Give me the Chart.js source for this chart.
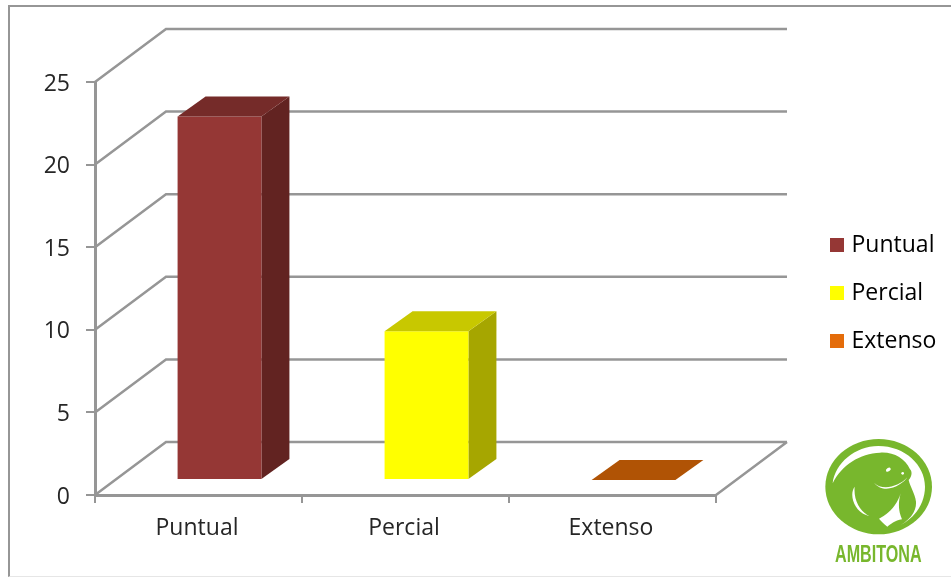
<!DOCTYPE html>
<html>
<head>
<meta charset="utf-8">
<style>
  html, body { margin: 0; padding: 0; background: #fff; }
  #wrap { position: relative; width: 951px; height: 578px; overflow: hidden; }
  #frame { position: absolute; left: 8px; top: 5px; right: -4px; bottom: 1px; border: 2px solid #969696; border-bottom: 1px solid #e6e6e6; }
  #logo { position: absolute; left: 810px; top: 430px; }
</style>
<script src="https://cdn.jsdelivr.net/npm/chart.js@4"></script>
</head>
<body>
<div id="wrap">
  <div id="frame"></div>
  <canvas id="chart3d" width="951" height="578"></canvas>
  <svg id="logo" width="141" height="148" viewBox="0 0 423 444">
    <ellipse cx="206" cy="170" rx="160" ry="143" fill="#78b72d"/>
    <path fill="#fff" d="M68,160 C75,100 135,48 205,48 C285,48 345,105 345,170 C345,215 320,260 272,285 C300,268 320,245 318,215 C315,190 300,170 296,150 C305,140 308,125 300,118 C285,85 250,65 210,68 C150,70 95,105 68,160 Z"/>
    <ellipse cx="235" cy="119" rx="8" ry="5" fill="#fff" transform="rotate(-35 235 119)"/>
    <circle cx="278" cy="130" r="4" fill="#fff"/>
    <path fill="#fff" d="M192,158 C215,182 265,172 292,142 C280,162 225,198 192,158 Z"/>
    <path fill="#fff" d="M134,170 C115,195 135,250 178,258 C150,245 130,210 134,170 Z"/>
    <path fill="#fff" d="M207,266 C240,250 262,222 272,190 C262,225 268,250 276,268 C255,270 240,285 232,290 C222,282 214,274 207,266 Z"/>
    <text x="75" y="395" font-family="'Liberation Sans Narrow','Liberation Sans',sans-serif" font-weight="700" font-size="70" fill="#78b72d" textLength="260" lengthAdjust="spacingAndGlyphs">AMBITONA</text>
  </svg>
</div>
<script>
// values
const categories = ["Puntual", "Percial", "Extenso"];
const counts = [22, 9, 0];
const frontColors = ["#953735", "#ffff00", "#b05305"];
const topColors = ["#752b29", "#c8c800", "#b05305"];
const sideColors = ["#622321", "#a6a600", "#8a4104"];
const legendColors = ["#953735", "#ffff00", "#e46c0a"];
const yMax = 25;
const yStep = 5;

const axisColor = "#969696";
const textColor = "#262626";
const fontFamily = "'Open Sans', sans-serif";
const fontSize = 23;

// 3d offsets in pixels
const wallDx = 71, wallDy = -53;
const barDx = 21, barDy = -15;
const depthDx = 28, depthDy = -20;

function poly(ctx, pts, color) {
  ctx.fillStyle = color;
  ctx.beginPath();
  pts.forEach((p, i) => (i ? ctx.lineTo(p[0], p[1]) : ctx.moveTo(p[0], p[1])));
  ctx.closePath();
  ctx.fill();
}

const fake3d = {
  id: "fake3d",
  beforeLayout(chart) {
    // legend reserves a fixed strip so the plot keeps its width
    const legend = chart.legend;
    if (legend && !legend._fixed) {
      const fit = legend.fit;
      legend.fit = function () { fit.call(this); this.width = 235; };
      legend._fixed = true;
    }
  },
  afterLayout(chart) {
    const legend = chart.legend;
    const w = legend.right - legend.left;
    legend.left = 834 - 25;
    legend.right = legend.left + w;
    legend.top -= 37;
    legend.bottom -= 37;
  },
  beforeDatasetsDraw(chart) {
    const ctx = chart.ctx, x = chart.scales.x, y = chart.scales.y;
    ctx.save();
    ctx.strokeStyle = axisColor;
    ctx.lineWidth = 2.5;
    ctx.beginPath();
    y.ticks.forEach((t) => {
      const py = y.getPixelForValue(t.value);
      ctx.moveTo(x.left, py);
      ctx.lineTo(x.left + wallDx, py + wallDy);
      ctx.lineTo(x.right + wallDx, py + wallDy);
    });
    ctx.moveTo(x.right, y.bottom);
    ctx.lineTo(x.right + wallDx, y.bottom + wallDy);
    ctx.stroke();
    ctx.restore();
  },
  beforeDatasetDraw(chart, args) {
    const ctx = chart.ctx;
    chart.getDatasetMeta(args.index).data.forEach((bar, i) => {
      const l = bar.x - bar.width / 2 + barDx, r = bar.x + bar.width / 2 + barDx;
      const t = bar.y + barDy, b = bar.base + barDy;
      if (b - t > 0) {
        poly(ctx, [[r, t], [r + depthDx, t + depthDy], [r + depthDx, b + depthDy], [r, b]], sideColors[i]);
        poly(ctx, [[l, t], [r, t], [r, b], [l, b]], frontColors[i]);
      }
      poly(ctx, [[l, t], [l + depthDx, t + depthDy], [r + depthDx, t + depthDy], [r, t]], topColors[i]);
    });
    return false;
  },
};

new Chart(document.getElementById("chart3d").getContext("2d"), {
  type: "bar",
  data: {
    labels: categories,
    datasets: [{ data: counts, backgroundColor: frontColors, categoryPercentage: 1, barPercentage: 0.405 }],
  },
  options: {
    responsive: false,
    animation: false,
    layout: { padding: { top: 82, left: 0, right: 0, bottom: 0 } },
    scales: {
      x: {
        afterFit(s) { s.height = 83; },
        grid: { drawOnChartArea: false, color: axisColor, lineWidth: 2, tickLength: 8 },
        border: { color: axisColor, width: 3 },
        ticks: { color: textColor, font: { family: fontFamily, size: fontSize }, padding: 12, labelOffset: -1.5, maxRotation: 0 },
      },
      y: {
        min: 0,
        max: yMax,
        afterFit(s) { s.width = 95; },
        grid: { drawOnChartArea: false, color: axisColor, lineWidth: 2, tickLength: 9 },
        border: { color: axisColor, width: 3 },
        ticks: { stepSize: yStep, color: textColor, font: { family: fontFamily, size: fontSize }, padding: 16, labelOffset: 2 },
      },
    },
    plugins: {
      tooltip: { enabled: false },
      legend: {
        position: "right",
        labels: {
          // small box plus a thick stroke: keeps the text close to the swatch
          boxWidth: 6,
          boxHeight: 6,
          padding: 25,
          color: textColor,
          font: { family: fontFamily, size: fontSize },
          generateLabels: () =>
            categories.map((c, i) => ({ text: c, fillStyle: legendColors[i], strokeStyle: legendColors[i], lineWidth: 8, index: i })),
        },
      },
    },
  },
  plugins: [fake3d],
});
</script>
</body>
</html>
